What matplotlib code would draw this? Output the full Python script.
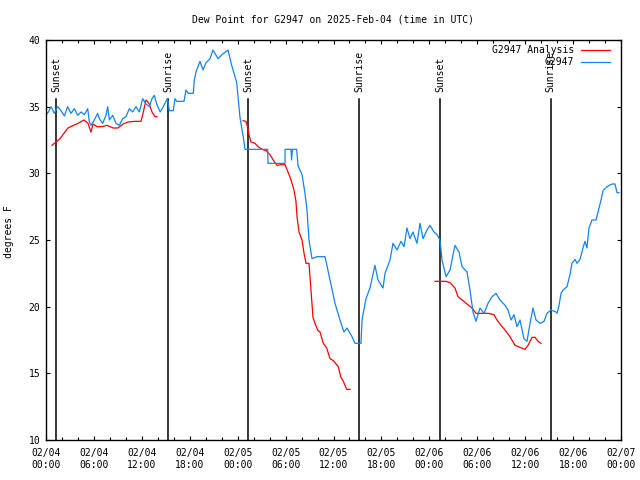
import numpy as np
import pandas as pd
import matplotlib
matplotlib.use('Agg')
import matplotlib.pyplot as plt
import matplotlib.dates as mdates

# data (hours since 2025-02-04 00:00 UTC, dew point in F)
obs_hours = [0.0, 0.3, 0.63, 1.04, 1.46, 1.88, 2.30, 2.71, 3.13, 3.55, 3.97, 4.38, 4.80, 5.22, 5.43,
             5.63, 6.05, 6.47, 6.68, 7.10, 7.51, 7.72, 7.93, 8.35, 8.76, 9.18, 9.60, 10.02, 10.43,
             10.85, 11.27, 11.69, 12.10, 12.52, 12.94, 13.27, 13.56, 13.86, 14.30, 14.69, 15.19,
             15.44, 15.94, 16.15, 16.37, 17.28, 17.53, 17.82, 18.44, 18.57, 18.78, 19.28, 19.66,
             20.04, 20.54, 20.91, 21.54, 22.04, 22.79, 23.25, 23.88, 24.29, 24.71, 24.92, 27.76,
             27.80, 29.93, 29.94, 30.68, 30.75, 30.85, 31.39, 31.56, 32.06, 32.43, 32.68, 32.93,
             33.31, 33.93, 34.94, 35.56, 36.19, 36.81, 37.31, 37.69, 38.32, 38.69, 39.44, 39.57,
             40.07, 40.57, 41.19, 41.57, 42.20, 42.45, 43.08, 43.45, 43.95, 44.45, 44.83, 45.20,
             45.58, 45.95, 46.45, 46.83, 47.21, 47.71, 48.08, 48.58, 48.96, 49.34, 49.59, 50.09,
             50.59, 51.21, 51.72, 52.09, 52.72, 53.09, 53.47, 53.84, 54.34, 54.85, 55.35, 55.85,
             56.35, 56.85, 57.48, 57.85, 58.23, 58.60, 58.98, 59.35, 59.85, 60.23, 60.61, 60.98,
             61.36, 61.86, 62.36, 62.73, 63.24, 63.86, 63.99, 64.24, 64.49, 64.74, 65.24, 65.61,
             65.86, 66.24, 66.49, 66.87, 67.24, 67.49, 67.74, 67.99, 68.37, 68.87, 69.12, 69.50,
             69.75, 70.25, 70.87, 71.25, 71.50, 71.75]
obs_dewpt = [34.4, 34.6, 35.0, 34.5, 35.0, 34.7, 34.3, 35.0, 34.5, 34.85, 34.35, 34.6, 34.4, 34.85, 33.85,
             33.6, 34.0, 34.5, 34.1, 33.75, 34.35, 35.0, 34.0, 34.35, 33.75, 33.6, 34.1, 34.25, 34.85,
             34.6, 35.0, 34.6, 35.6, 35.2, 35.0, 35.6, 35.85, 35.2, 34.6, 35.0, 35.6,
             34.7, 34.7, 35.6, 35.4, 35.4, 36.25, 36.0, 36.0, 37.0, 37.6, 38.4, 37.75,
             38.3, 38.6, 39.25, 38.6, 38.9, 39.25, 38.1, 36.8, 34.2, 32.7, 31.8, 31.8,
             30.75, 30.75, 31.8, 31.8, 31.0, 31.8, 31.8, 30.55, 29.9, 28.5, 27.25, 25.0,
             23.6, 23.75, 23.75, 22.0, 20.25, 19.0, 18.1, 18.4, 17.75, 17.25, 17.25, 19.0,
             20.6, 21.4, 23.1, 22.0, 21.4, 22.5, 23.5, 24.75, 24.25, 24.9, 24.5, 25.9,
             25.1, 25.6, 24.75, 26.25, 25.1, 25.75, 26.1, 25.6, 25.4, 25.0, 23.5, 22.25,
             22.75, 24.6, 24.1, 23.0, 22.6, 21.25, 19.6, 18.9, 19.9, 19.5, 20.25, 20.75,
             21.0, 20.5, 20.1, 19.75, 19.0, 19.4, 18.5, 19.0, 17.6, 17.4, 18.75, 19.9,
             19.0, 18.75, 18.9, 19.5, 19.75, 19.6, 19.5, 20.1, 21.0, 21.25, 21.5, 22.4,
             23.25, 23.55, 23.25, 23.55, 24.4, 24.9, 24.4, 25.9, 26.5, 26.5, 27.1, 28.0,
             28.7, 29.0, 29.2, 29.2, 28.55, 28.55]

# analysis comes in three separate runs (gaps between them)
ana_hours = [
    [0.75, 1.25, 1.75, 2.25, 2.75, 3.26, 4.01, 4.76, 5.26, 5.63, 5.89, 6.39, 7.01, 7.64, 8.39,
     9.02, 9.64, 10.27, 11.14, 11.90, 12.15, 12.52, 12.90, 13.27, 13.65, 13.90],
    [24.67, 25.04, 25.29, 25.42, 25.67, 26.17, 26.55, 27.05, 27.55, 28.05, 28.55, 28.93, 29.43,
     29.93, 30.30, 30.68, 31.05, 31.30, 31.43, 31.68, 32.06, 32.31, 32.56, 32.93, 33.18, 33.43,
     33.68, 34.06, 34.31, 34.72, 35.15, 35.56, 35.98, 36.60, 36.90, 37.23, 37.65, 38.07],
    [48.71, 49.34, 50.09, 50.59, 51.21, 51.59, 52.22, 52.72, 53.34, 53.84, 54.47, 55.35, 56.10,
     56.47, 56.97, 57.48, 58.10, 58.73, 59.35, 59.98, 60.36, 60.86, 61.23, 61.61, 61.98],
]
ana_dewpt = [
    [32.1, 32.35, 32.6, 33.0, 33.4, 33.55, 33.75, 34.0, 33.75, 33.1, 33.7, 33.5, 33.5, 33.6, 33.4,
     33.4, 33.7, 33.85, 33.9, 33.9, 34.5, 35.5, 35.25, 34.6, 34.25, 34.25],
    [33.95, 33.9, 33.4, 32.9, 32.35, 32.25, 32.0, 31.8, 31.7, 31.4, 30.9, 30.6, 30.65,
     30.65, 30.1, 29.5, 28.75, 27.9, 26.75, 25.6, 25.0, 24.0, 23.25, 23.25, 21.25, 19.2,
     18.75, 18.2, 18.1, 17.25, 16.9, 16.1, 15.95, 15.5, 14.75, 14.4, 13.8, 13.8],
    [21.9, 21.9, 21.9, 21.8, 21.4, 20.75, 20.45, 20.2, 19.9, 19.5, 19.5, 19.5, 19.4,
     19.0, 18.6, 18.25, 17.75, 17.1, 16.95, 16.8, 17.1, 17.7, 17.7, 17.4, 17.25],
]

sun_hours = [1.29, 15.3, 25.3, 39.2, 49.35, 63.2]
sun_labels = ["Sunset", "Sunrise", "Sunset", "Sunrise", "Sunset", "Sunrise"]

base = pd.Timestamp("2025-02-04 00:00")


def to_time(hours):
    return base + pd.to_timedelta(np.array(hours), unit="h")


plt.rcParams['font.family'] = ['DejaVu Sans Mono']
plt.rcParams['font.size'] = 7

red = "#ff0000"
blue = "#1283f0"

fig = plt.figure(figsize=(6.4, 4.8), dpi=100)
ax = fig.add_axes([46 / 640, 40 / 480, 575 / 640, 400 / 480])

# sunrise / sunset markers
for h, lab in zip(sun_hours, sun_labels):
    t = to_time([h])[0]
    ax.axvline(t, ymin=0, ymax=0.853, color="black", lw=1.1)
    ax.text(t, 0.871, lab, transform=ax.get_xaxis_transform(), rotation=90,
            ha="center", va="bottom", fontsize=7)

for hh, vv in zip(ana_hours, ana_dewpt):
    ax.plot(to_time(hh), vv, color=red, lw=0.9)
ax.plot(to_time(obs_hours), obs_dewpt, color=blue, lw=0.9)

# gnuplot style key, right aligned, no frame
key = [("G2947 Analysis", red), ("G2947", blue)]
for i, (name, col) in enumerate(key):
    yk = 0.975 - i * 0.03
    ax.text(0.918, yk, name, transform=ax.transAxes, ha="right", va="center", fontsize=7)
    ax.plot([0.930, 0.981], [yk, yk], transform=ax.transAxes, color=col, lw=0.9, clip_on=False)

ax.set_xlim(base, base + pd.Timedelta(hours=72))
ax.set_ylim(10, 40)
ax.set_yticks(range(10, 41, 5))
ax.xaxis.set_major_locator(mdates.HourLocator(byhour=[0, 6, 12, 18]))
ax.xaxis.set_minor_locator(mdates.HourLocator(interval=2))
ax.xaxis.set_major_formatter(mdates.DateFormatter("%m/%d\n%H:%M"))

ax.tick_params(which="both", direction="in", top=True, right=True, labelsize=7)
ax.tick_params(which="major", length=3, width=0.8)
ax.tick_params(which="minor", length=2, width=0.8)
ax.tick_params(axis="y", pad=4)
ax.tick_params(axis="x", pad=6)
for sp in ax.spines.values():
    sp.set_linewidth(1.0)

ax.set_ylabel("degrees F", fontsize=7)
ax.yaxis.set_label_coords(-0.055, 0.52)
fig.text(0.52, 0.96, "Dew Point for G2947 on 2025-Feb-04 (time in UTC)", ha="center", va="center",
         fontsize=7)

plt.savefig("out.png", dpi=100)
